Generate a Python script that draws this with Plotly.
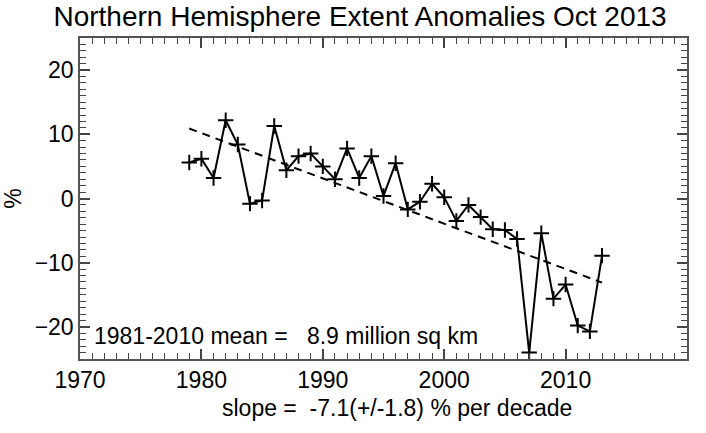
import plotly.graph_objects as go

years = list(range(1979, 2014))
anomaly = [5.6, 6.2, 3.2, 12.2, 8.4, -0.8, -0.3, 11.3, 4.4, 6.6,
           7.0, 5.0, 3.0, 7.8, 3.2, 6.6, 0.4, 5.5, -1.7, -0.5,
           2.3, 0.2, -3.5, -1.0, -2.9, -4.8, -4.9, -6.3, -24.0, -5.4,
           -15.6, -13.4, -19.8, -20.7, -8.9]
trend_years = [1979, 2013]
trend_values = [10.9, -13.1]

title_text = "Northern Hemisphere Extent Anomalies Oct 2013"
mean_text = "1981-2010 mean =\u00a0\u00a0\u00a08.9 million sq km"
slope_text = "slope =\u00a0\u00a0-7.1(+/-1.8) % per decade"

FONT = "Liberation Sans, Arial, Helvetica, sans-serif"
LC = "#444"
X_RANGE = [1970, 2020]
Y_RANGE = [-25, 25]

fig = go.Figure()
fig.add_trace(go.Scatter(
    x=trend_years, y=trend_values, mode="lines",
    line=dict(color="black", width=2, dash="8px,6px"),
    showlegend=False, hoverinfo="skip"))
fig.add_trace(go.Scatter(
    x=years, y=anomaly, mode="lines+markers",
    line=dict(color="black", width=2),
    marker=dict(symbol="cross-thin", size=11, line=dict(color="black", width=2)),
    showlegend=False))

axis_common = dict(
    showline=True, linecolor="#555", linewidth=1.5, mirror="allticks",
    ticks="inside", ticklen=10, tickwidth=1.5, tickcolor=LC,
    showgrid=False, zeroline=False, automargin=False,
    tickfont=dict(family=FONT, size=23, color="black"),
)
minor_style = dict(ticks="inside", ticklen=6, tickwidth=1.2, tickcolor=LC,
                   showgrid=False, dtick=1)

fig.update_layout(
    xaxis=dict(range=X_RANGE, tickmode="linear", tick0=1970, dtick=10,
               minor=dict(tick0=1970, **minor_style), **axis_common),
    yaxis=dict(range=Y_RANGE, tickmode="linear", tick0=0, dtick=10,
               minor=dict(tick0=0, **minor_style),
               title=dict(text="%", font=dict(family=FONT, size=23, color="black"),
                          standoff=22),
               **axis_common),
)

fig.add_annotation(x=1971.0, y=-21.4, xref="x", yref="y", text=mean_text,
                   showarrow=False, xanchor="left", yanchor="middle",
                   font=dict(family=FONT, size=23, color="black"))
fig.add_annotation(x=0.522, y=-0.153, xref="paper", yref="paper", text=slope_text,
                   showarrow=False, xanchor="center", yanchor="middle",
                   font=dict(family=FONT, size=23, color="black"))

fig.update_layout(
    width=706, height=433,
    margin=dict(l=80, r=19, t=38, b=74),
    paper_bgcolor="white", plot_bgcolor="white",
    title=dict(text=title_text, x=0.51, xref="container", xanchor="center",
               y=0.962, yref="container", yanchor="middle", pad=dict(t=0),
               font=dict(family=FONT, size=28, color="black")),
)

fig.write_html("out.html", config={"displayModeBar": False},
               post_script="document.body.style.margin='0';")
